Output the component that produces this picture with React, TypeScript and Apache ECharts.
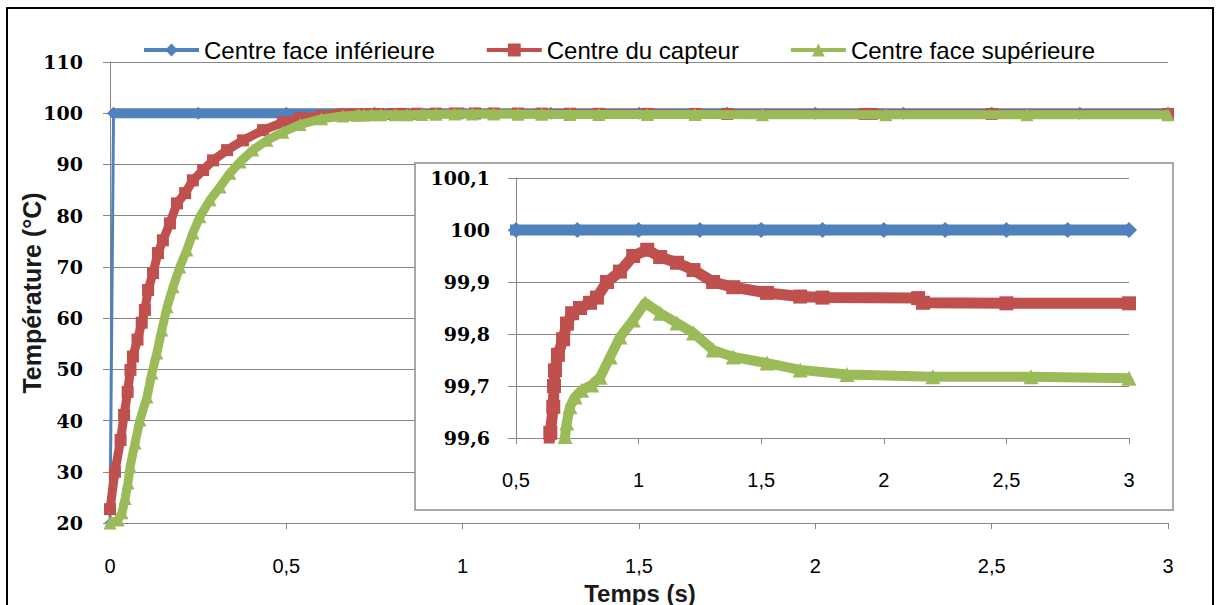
import React, { useEffect, useRef } from "react";
import * as echarts from "echarts";

const seriesNames = ["Centre face inférieure", "Centre du capteur", "Centre face supérieure"];
const colors = ["#4F81BD", "#C0504D", "#9BBB59"];

const mainYTicks = { min: 20, max: 110, step: 10 };
const mainXTicks = { min: 0, max: 3, step: 0.5 };
const insetYTicks = { min: 99.6, max: 100.1, step: 0.1 };
const insetXTicks = { min: 0.5, max: 3, step: 0.5 };

// Centre face inférieure [t (s), T (°C)]
const faceInferieure: [number, number][] = [
  [0, 20], [0.01, 100], [0.25, 100], [0.5, 100], [0.75, 100], [1, 100], [1.25, 100],
  [1.5, 100], [1.75, 100], [2, 100], [2.25, 100], [2.5, 100], [2.75, 100], [3, 100],
];

// Centre du capteur
const centreCapteur: [number, number][] = [
  [0, 22.7], [0.014, 30], [0.03, 36.2], [0.04, 41.1], [0.05, 45.6], [0.058, 49.9], [0.065, 52.5],
  [0.078, 55.8], [0.09, 59.1], [0.099, 61.6], [0.108, 65.5], [0.122, 68.8], [0.136, 72.7],
  [0.15, 75.2], [0.17, 78.5], [0.19, 82.4], [0.213, 84.4], [0.235, 86.9], [0.264, 88.9],
  [0.292, 90.8], [0.332, 92.8], [0.377, 94.7], [0.434, 96.7], [0.49, 98.2], [0.54, 99.05],
  [0.6, 99.45], [0.64, 99.61], [0.652, 99.66], [0.655, 99.7], [0.659, 99.73], [0.671, 99.76],
  [0.692, 99.79], [0.708, 99.82], [0.729, 99.84], [0.761, 99.85], [0.802, 99.86], [0.83, 99.87],
  [0.871, 99.9], [0.924, 99.92], [0.978, 99.95], [1.035, 99.962], [1.088, 99.948],
  [1.157, 99.937], [1.224, 99.923], [1.304, 99.9], [1.386, 99.89], [1.524, 99.879],
  [1.659, 99.872], [1.75, 99.87], [2.14, 99.869], [2.16, 99.86], [2.5, 99.859], [3, 99.859],
];

// Centre face supérieure
const faceSuperieure: [number, number][] = [
  [0, 20], [0.023, 20.6], [0.034, 22], [0.043, 24.8], [0.051, 27.8], [0.057, 31], [0.071, 35.6],
  [0.085, 40.1], [0.105, 44.6], [0.119, 49.3], [0.133, 53.2], [0.147, 57.7], [0.162, 62.2],
  [0.179, 66.1], [0.198, 70], [0.218, 73.3], [0.235, 76.6], [0.255, 79.8], [0.284, 83.1],
  [0.312, 85.6], [0.34, 88.3], [0.369, 90.5], [0.405, 92.8], [0.445, 94.7], [0.49, 96.3],
  [0.539, 97.8], [0.6, 98.9], [0.66, 99.45], [0.7, 99.603], [0.707, 99.629], [0.72, 99.66],
  [0.741, 99.679], [0.768, 99.692], [0.809, 99.702], [0.843, 99.717], [0.884, 99.756],
  [0.924, 99.794], [0.978, 99.827], [1.027, 99.86], [1.088, 99.84], [1.157, 99.821],
  [1.224, 99.802], [1.304, 99.769], [1.386, 99.756], [1.524, 99.744], [1.659, 99.731],
  [1.85, 99.722], [2.2, 99.718], [2.6, 99.718], [3, 99.715],
];

const gridGray = "#878787";
const serifFont = "'DejaVu Serif', serif";
const narrowFont = "'Liberation Sans Narrow', 'Liberation Sans', sans-serif";
const sansFont = "'Liberation Sans', Arial, sans-serif";

const commaFmt = (v: number) => String(Math.round(v * 10) / 10).replace(".", ",");

export default function App() {
  const ref = useRef<HTMLDivElement>(null);

  useEffect(() => {
    if (!ref.current) return;
    const chart = echarts.init(ref.current, null, { renderer: "svg" });

    const band = (
      name: string,
      data: [number, number][],
      color: string,
      symbol: string,
      axisIndex: number,
      width: number,
      size: number,
      z: number
    ) => ({
      type: "line",
      name,
      data,
      xAxisIndex: axisIndex,
      yAxisIndex: axisIndex,
      symbol,
      symbolSize: size,
      showAllSymbol: true,
      color,
      itemStyle: { color },
      lineStyle: { color, width, join: "round" },
      clip: true,
      z,
    });

    const option: any = {
      animation: false,
      backgroundColor: "#ffffff",
      legend: {
        data: seriesNames,
        left: 137,
        top: 33,
        itemWidth: 55,
        itemHeight: 16,
        itemGap: 50,
        textStyle: { fontFamily: sansFont, fontSize: 24, color: "#000" },
        lineStyle: { width: 4 },
        selectedMode: false,
      },
      grid: [
        { left: 110, top: 62, width: 1058, height: 461, outerBoundsMode: "none" },
        { left: 516, top: 178, width: 613, height: 260, outerBoundsMode: "none" },
      ],
      xAxis: [
        {
          type: "value",
          gridIndex: 0,
          min: mainXTicks.min,
          max: mainXTicks.max,
          interval: mainXTicks.step,
          axisLine: { lineStyle: { color: gridGray, width: 1 } },
          axisTick: { show: true, length: 6, lineStyle: { color: gridGray } },
          splitLine: { show: false },
          axisLabel: {
            formatter: commaFmt,
            fontFamily: narrowFont,
            fontSize: 20,
            color: "#000",
            margin: 33,
          },
          z: 0,
        },
        {
          type: "value",
          gridIndex: 1,
          min: insetXTicks.min,
          max: insetXTicks.max,
          interval: insetXTicks.step,
          axisLine: { onZero: false, lineStyle: { color: gridGray, width: 1 } },
          axisTick: { show: true, length: 6, lineStyle: { color: gridGray } },
          splitLine: { show: false },
          axisLabel: {
            formatter: commaFmt,
            fontFamily: narrowFont,
            fontSize: 20,
            color: "#000",
            margin: 32,
          },
          z: 6,
        },
      ],
      yAxis: [
        {
          type: "value",
          gridIndex: 0,
          min: mainYTicks.min,
          max: mainYTicks.max,
          interval: mainYTicks.step,
          axisLine: { show: true, lineStyle: { color: gridGray, width: 1 } },
          axisTick: { show: true, length: 7, lineStyle: { color: gridGray } },
          splitLine: { show: true, lineStyle: { color: gridGray, width: 1 } },
          axisLabel: {
            fontFamily: serifFont,
            fontWeight: "bold",
            fontSize: 19,
            color: "#000",
            margin: 27,
          },
          z: 0,
        },
        {
          type: "value",
          gridIndex: 1,
          min: insetYTicks.min,
          max: insetYTicks.max,
          interval: insetYTicks.step,
          axisLine: { show: true, onZero: false, lineStyle: { color: gridGray, width: 1 } },
          axisTick: { show: true, length: 8, lineStyle: { color: gridGray } },
          splitLine: { show: true, lineStyle: { color: gridGray, width: 1 } },
          axisLabel: {
            formatter: commaFmt,
            fontFamily: serifFont,
            fontWeight: "bold",
            fontSize: 19,
            color: "#000",
            margin: 26,
          },
          z: 6,
        },
      ],
      series: [
        // main chart
        band(seriesNames[0], faceInferieure.slice(0, 2), colors[0], "diamond", 0, 3, 11, 2),
        band(seriesNames[0], faceInferieure.slice(1), colors[0], "diamond", 0, 10, 13, 2),
        band(seriesNames[1], centreCapteur, colors[1], "rect", 0, 9, 12, 3),
        band(seriesNames[2], faceSuperieure, colors[2], "triangle", 0, 9, 13, 4),
        // inset
        band(seriesNames[0], faceInferieure.slice(1), colors[0], "diamond", 1, 11, 16, 7),
        band(seriesNames[1], centreCapteur, colors[1], "rect", 1, 11, 14, 8),
        band(seriesNames[2], faceSuperieure, colors[2], "triangle", 1, 10, 15, 9),
      ],
      graphic: {
        elements: [
          {
            type: "rect",
            z: 5,
            shape: { x: 415, y: 163, width: 758, height: 347 },
            style: { fill: "#ffffff", stroke: "#8c8c8c", lineWidth: 1.5 },
          },
          {
            type: "rect",
            z: 20,
            shape: { x: 7, y: 8, width: 1206, height: 600 },
            style: { fill: "none", stroke: "#000000", lineWidth: 2 },
          },
          {
            type: "text",
            z: 20,
            x: 32,
            y: 293,
            rotation: Math.PI / 2,
            style: {
              text: "Température (°C)",
              fontFamily: sansFont,
              fontWeight: "bold",
              fontSize: 25,
              fill: "#1a1a1a",
              align: "center",
              verticalAlign: "middle",
            },
          },
          {
            type: "text",
            z: 20,
            x: 640,
            y: 593,
            style: {
              text: "Temps (s)",
              fontFamily: sansFont,
              fontWeight: "bold",
              fontSize: 24,
              fill: "#1a1a1a",
              align: "center",
              verticalAlign: "middle",
            },
          },
        ],
      },
    };

    chart.setOption(option);
    return () => chart.dispose();
  }, []);

  return (
    <div
      ref={ref}
      style={{ position: "fixed", left: 0, top: 0, width: "1217px", height: "605px", background: "#fff" }}
    />
  );
}
